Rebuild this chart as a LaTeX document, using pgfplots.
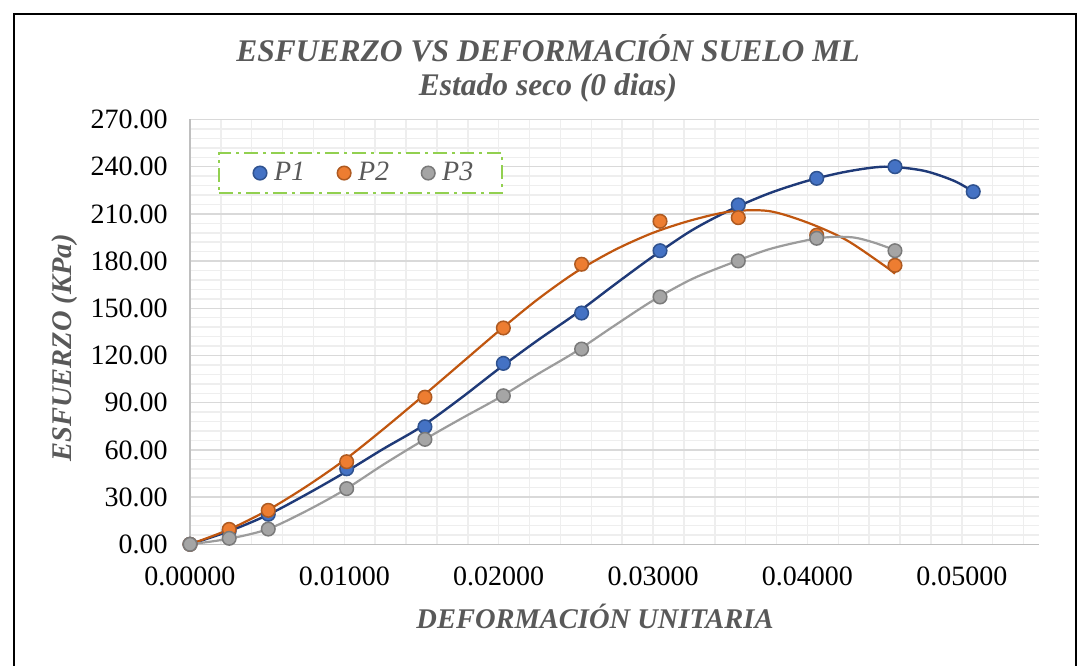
\documentclass[border=0pt]{standalone}
\usepackage{fontspec}
\setmainfont{Liberation Serif}
\usepackage{pgfplots}
\usepackage{pgfplotstable}
\pgfplotsset{compat=1.18}
\definecolor{titlegray}{HTML}{595959}
\definecolor{axisgray}{HTML}{BFBFBF}
\definecolor{gridmajor}{HTML}{D9D9D9}
\definecolor{gridminor}{HTML}{EEEEEE}
\definecolor{legendgreen}{HTML}{92D050}
\definecolor{bluefill}{HTML}{4472C4}
\definecolor{bluedraw}{HTML}{2F528F}
\definecolor{blueline}{HTML}{1F3A78}
\definecolor{orangefill}{HTML}{ED7D31}
\definecolor{orangedraw}{HTML}{AE5A21}
\definecolor{orangeline}{HTML}{C0560F}
\definecolor{grayfill}{HTML}{A5A5A5}
\definecolor{graydraw}{HTML}{7A7A7A}
\definecolor{grayline}{HTML}{9C9C9C}

% measured points
\pgfplotstableread{
x y
0 0
0.00254 8.5
0.00507 19.1
0.01015 48.0
0.01522 74.7
0.02030 115.0
0.02537 147.0
0.03045 186.6
0.03552 215.7
0.04060 232.6
0.04567 240.0
0.05074 224.1
}\ptsA
\pgfplotstableread{
x y
0 0
0.00254 9.5
0.00507 21.6
0.01015 52.5
0.01522 93.5
0.02030 137.5
0.02537 178.0
0.03045 205.3
0.03552 207.6
0.04060 196.5
0.04567 177.3
}\ptsB
\pgfplotstableread{
x y
0 0
0.00254 3.8
0.00507 9.7
0.01015 35.4
0.01522 66.7
0.02030 94.4
0.02537 124.1
0.03045 157.2
0.03552 180.1
0.04060 194.5
0.04567 186.6
}\ptsC
% curves
\pgfplotstableread{
x y
0 0
0.0025 8.2
0.0050 18.5
0.0075 31.5
0.0100 45.5
0.0125 60.5
0.0150 74.8
0.0175 92.5
0.0200 111.5
0.0225 129.5
0.0250 146.5
0.0275 165.0
0.0300 183.0
0.0325 199.5
0.0350 212.5
0.0375 223.0
0.0400 231.0
0.0425 236.8
0.0450 240.0
0.0475 237.5
0.0495 231.0
0.05074 224.1
}\curA
\pgfplotstableread{
x y
0 0
0.0025 9.3
0.0050 21.5
0.0075 36.5
0.0100 53.5
0.0125 73.0
0.0150 93.5
0.0175 114.5
0.0200 135.5
0.0225 155.5
0.0250 173.0
0.0275 187.0
0.0300 198.0
0.0325 206.0
0.0350 211.5
0.0375 211.8
0.0400 204.5
0.0425 193.5
0.0450 177.0
0.04567 172.0
}\curB
\pgfplotstableread{
x y
0 0
0.0025 3.5
0.0050 9.5
0.0075 21.0
0.0100 34.5
0.0125 50.5
0.0150 65.5
0.0175 79.5
0.0200 93.0
0.0225 108.0
0.0250 122.5
0.0275 139.0
0.0300 155.0
0.0325 168.5
0.0350 178.5
0.0375 187.5
0.0400 193.3
0.0415 195.3
0.0430 195.0
0.0443 191.8
0.04567 187.0
}\curC

\begin{document}
\begin{tikzpicture}[x=0.5pt,y=0.5pt]
\useasboundingbox (0,0) rectangle (1088,665);
\fill[white] (0,0) rectangle (1088,665);
\draw[line width=1pt] (14,-20) rectangle (1076,651);
\node[anchor=base, font=\fontsize{15.75}{18}\selectfont\bfseries\itshape, text=titlegray, inner sep=0pt] at (548,603) {ESFUERZO VS DEFORMACIÓN SUELO ML};
\node[anchor=base, font=\fontsize{15.75}{18}\selectfont\bfseries\itshape, text=titlegray, inner sep=0pt] at (548,569) {Estado seco (0 dias)};
\node[anchor=base, rotate=90, font=\fontsize{14.25}{16}\selectfont\bfseries\itshape, text=titlegray, inner sep=0pt] at (71,317) {ESFUERZO (KPa)};
\node[anchor=base, font=\fontsize{14.25}{16}\selectfont\bfseries\itshape, text=titlegray, inner sep=0pt] at (595,37) {DEFORMACIÓN UNITARIA};
\begin{axis}[
  at={(95pt,60.35pt)}, anchor=south west,
  width=424.5pt, height=212.4pt, scale only axis,
  xmin=0, xmax=0.055, ymin=0, ymax=270,
  xtick={0,0.01,0.02,0.03,0.04,0.05},
  minor xtick={0.002,0.004,0.006,0.008,0.012,0.014,0.016,0.018,0.022,0.024,0.026,0.028,0.032,0.034,0.036,0.038,0.042,0.044,0.046,0.048,0.052,0.054},
  ytick={0,30,60,90,120,150,180,210,240,270},
  minor y tick num=4,
  xmajorgrids, xminorgrids, ymajorgrids, yminorgrids,
  major x grid style={draw=gridminor, line width=0.75pt},
  minor x grid style={draw=gridminor, line width=0.75pt},
  major y grid style={draw=gridmajor, line width=0.75pt},
  minor y grid style={draw=gridminor, line width=0.75pt},
  major tick length=0pt, minor tick length=0pt,
  tick style={draw=none},
  axis x line*=bottom, axis y line*=left,
  axis line style={draw=axisgray, line width=0.75pt},
  scaled x ticks=false, scaled y ticks=false,
  /pgf/number format/assume math mode=true,
  xticklabel style={anchor=north, inner sep=0pt, yshift=-11.3pt, font=\fontsize{14}{16}\selectfont,
     /pgf/number format/.cd, fixed, fixed zerofill, precision=5},
  yticklabel style={anchor=east, inner sep=0pt, xshift=-11pt, font=\fontsize{14}{16}\selectfont,
     /pgf/number format/.cd, fixed, fixed zerofill, precision=2},
  legend columns=3,
  legend cell align=left,
  legend image code/.code={\path[draw=none,fill=none] (-4pt,-4pt) rectangle (7pt,4pt); \draw[#1] plot coordinates {(3.5pt,0pt)};},
  legend style={at={(0.033,0.9228)}, anchor=north west, draw=legendgreen, line width=1pt,
     dash pattern=on 7pt off 2.5pt on 1.5pt off 2.5pt, fill=white,
     font=\fontsize{14}{16}\selectfont\itshape, text=titlegray,
     inner xsep=13pt, inner ysep=4.5pt,
     nodes={inner xsep=1.5pt, inner ysep=0pt},
     /tikz/every odd column/.append style={column sep=2pt},
     /tikz/every even column/.append style={column sep=10.5pt}},
]
\addplot[blueline, line width=1.2pt, smooth, no markers, forget plot] table {\curA};
\addplot[orangeline, line width=1.1pt, smooth, no markers, forget plot] table {\curB};
\addplot[grayline, line width=1.1pt, smooth, no markers, forget plot] table {\curC};
\addplot[only marks, mark=*, mark size=3.4pt, mark options={solid, fill=bluefill, draw=bluedraw, line width=0.75pt}] table {\ptsA};
\addlegendentry{P1}
\addplot[only marks, mark=*, mark size=3.4pt, mark options={solid, fill=orangefill, draw=orangedraw, line width=0.75pt}] table {\ptsB};
\addlegendentry{P2}
\addplot[only marks, mark=*, mark size=3.4pt, mark options={solid, fill=grayfill, draw=graydraw, line width=0.75pt}] table {\ptsC};
\addlegendentry{P3}
\end{axis}
\end{tikzpicture}
\end{document}
